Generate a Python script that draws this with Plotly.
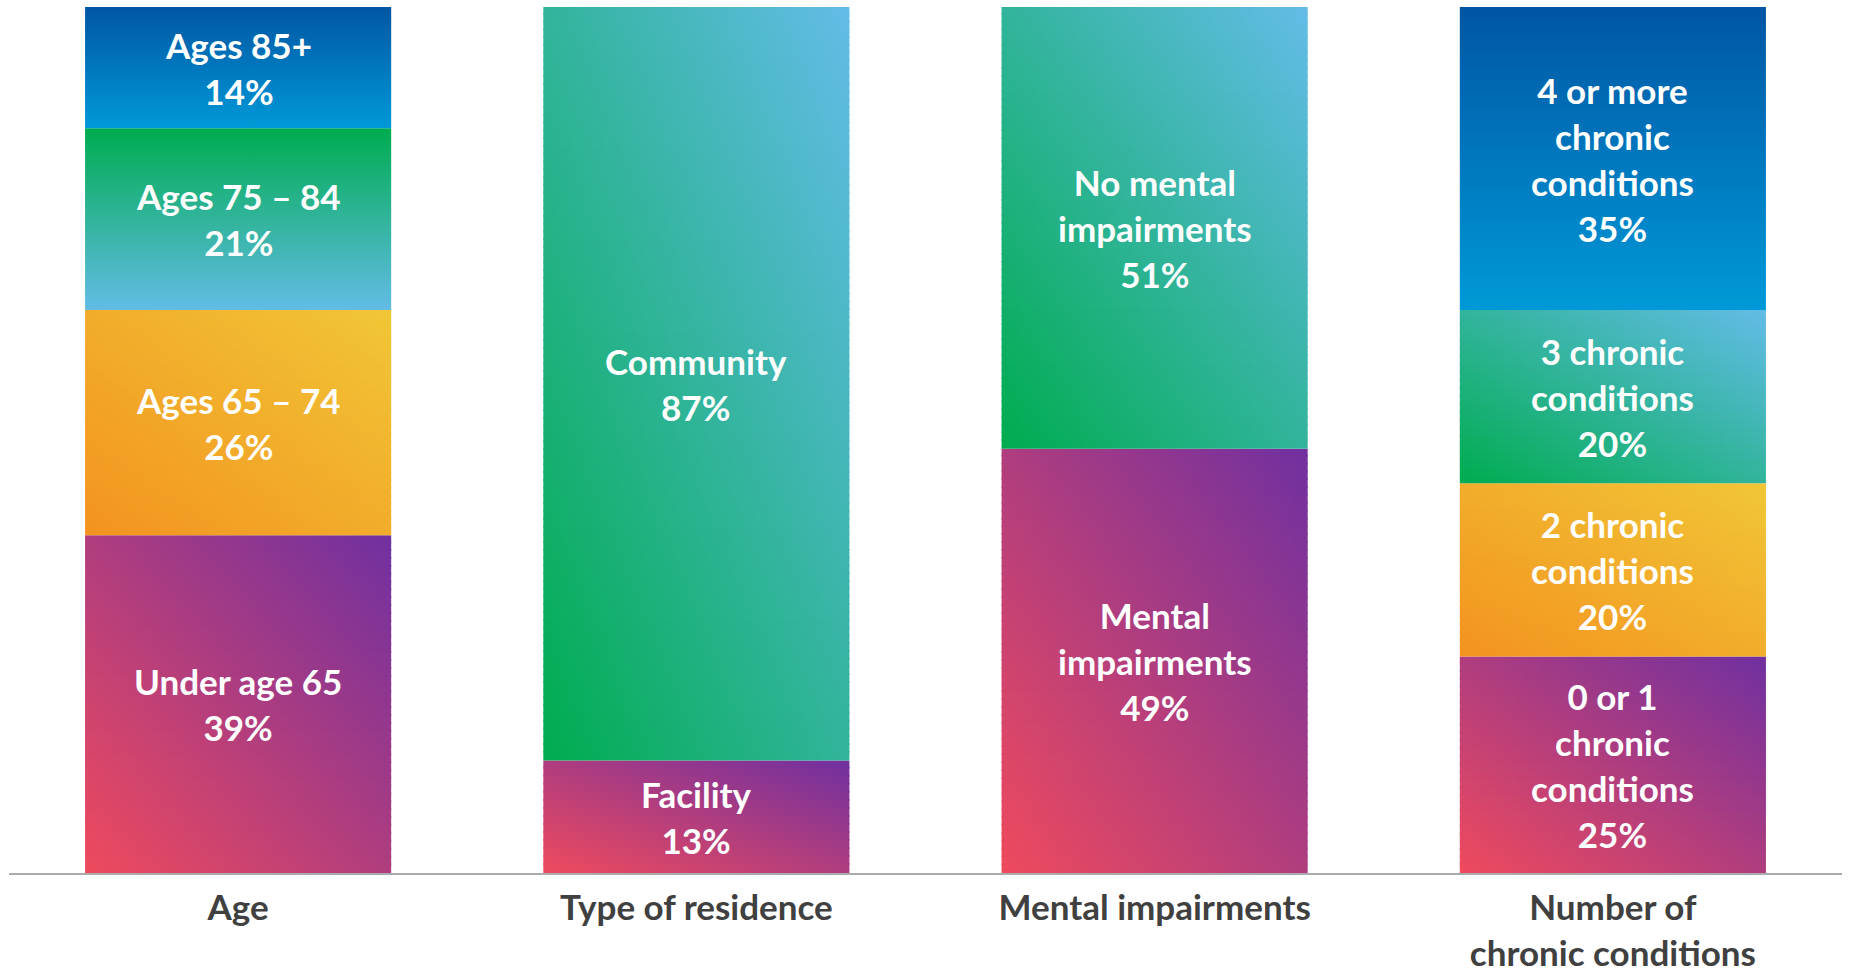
import plotly.graph_objects as go

# ---------------- data ----------------
categories = ["Age", "Type of residence", "Mental impairments", "Number of<br>chronic conditions"]

age_labels = ["Under age 65", "Ages 65 – 74", "Ages 75 – 84", "Ages 85+"]
age_values = [39, 26, 21, 14]

residence_labels = ["Facility", "Community"]
residence_values = [13, 87]

mental_labels = ["Mental<br>impairments", "No mental<br>impairments"]
mental_values = [49, 51]

chronic_labels = ["0 or 1<br>chronic<br>conditions", "2 chronic<br>conditions",
                  "3 chronic<br>conditions", "4 or more<br>chronic<br>conditions"]
chronic_values = [25, 20, 20, 35]

# ---------------- styles ----------------
age_styles = ["purple", "gold", "green_v", "blue"]
residence_styles = ["purple", "green"]
mental_styles = ["purple", "green"]
chronic_styles = ["purple", "gold", "green", "blue"]

# gradient definitions: (kind, start colour, end colour)
gradients = {
    "purple": ("diag", "#EF4A5D", "#7030A0"),
    "gold": ("diag", "#F39320", "#F1C636"),
    "green": ("diag", "#00AC4F", "#63BCE8"),
    "green_v": ("vert", "#62BCE6", "#00AC50"),
    "blue": ("vert", "#0099D8", "#0056A3"),
}

groups = [
    (age_labels, age_values, age_styles),
    (residence_labels, residence_values, residence_styles),
    (mental_labels, mental_values, mental_styles),
    (chronic_labels, chronic_values, chronic_styles),
]

HALF = 0.334
LABEL_PX = 35
LINE_FONT = 35.4


def hex2rgb(h):
    h = h.lstrip("#")
    return [int(h[i:i + 2], 16) for i in (0, 2, 4)]


def lerp(a, b, t):
    return [a[i] + (b[i] - a[i]) * t for i in range(3)]


def rgbs(c):
    return "rgb(%d,%d,%d)" % tuple(round(v) for v in c)


def wrap(text, px):
    return "<br>".join('<span style="font-size:%dpx">%s</span>' % (px, s) for s in text.split("<br>"))


fig = go.Figure()
annotations = []

for ci, (labels, values, styles) in enumerate(groups):
    base = 0.0
    x0, x1 = ci - HALF, ci + HALF
    for lab, val, sty in zip(labels, values, styles):
        y0, y1 = base, base + val
        kind, cs, ce = gradients[sty]
        c0, c1 = hex2rgb(cs), hex2rgb(ce)
        if kind == "vert":
            fig.add_trace(go.Scatter(
                x=[x0, x1, x1, x0, x0], y=[y0, y0, y1, y1, y0],
                mode="none", fill="toself", hoverinfo="skip", showlegend=False,
                fillgradient=dict(type="vertical", start=y0, stop=y1,
                                  colorscale=[[0, rgbs(c0)], [1, rgbs(c1)]]),
            ))
        else:
            mid = lerp(c0, c1, 0.5)
            n = max(3, int(round(val / 0.9)))
            h = val / n
            for k in range(n):
                s0 = y0 + k * h
                s1 = min(y1, s0 + h + 0.2)
                v = (k + 0.5) / n
                left = lerp(c0, mid, v)
                right = lerp(mid, c1, v)
                fig.add_trace(go.Scatter(
                    x=[x0, x1, x1, x0, x0], y=[s0, s0, s1, s1, s0],
                    mode="none", fill="toself", hoverinfo="skip", showlegend=False,
                    fillgradient=dict(type="horizontal", start=x0, stop=x1,
                                      colorscale=[[0, rgbs(left)], [1, rgbs(right)]]),
                ))
        annotations.append(dict(
            x=ci, y=(y0 + y1) / 2, xref="x", yref="y",
            text=wrap("%s<br>%d%%" % (lab, val), LABEL_PX),
            showarrow=False, align="center",
            font=dict(family="Lato", size=LINE_FONT, color="white", weight="bold"),
        ))
        base = y1

fig.update_layout(
    width=1851, height=970,
    margin=dict(l=9, r=9, t=7, b=97, autoexpand=False),
    paper_bgcolor="white", plot_bgcolor="white",
    showlegend=False,
    annotations=annotations,
    xaxis=dict(
        range=[-0.5, 3.5], tickmode="array",
        tickvals=list(range(len(categories))),
        ticktext=[wrap(c, LABEL_PX) for c in categories],
        tickfont=dict(family="Lato", size=LINE_FONT, color="#404040", weight="bold"),
        showline=True, linecolor="#ABABAB", linewidth=1.5,
        showgrid=False, zeroline=False, ticks="", ticklabelstandoff=3,
        automargin=False,
    ),
    yaxis=dict(range=[0, 100], visible=False, showgrid=False, zeroline=False,
               automargin=False),
)

fig.write_html("out.html", config={"displayModeBar": False},
               post_script="document.body.style.margin='0';")
